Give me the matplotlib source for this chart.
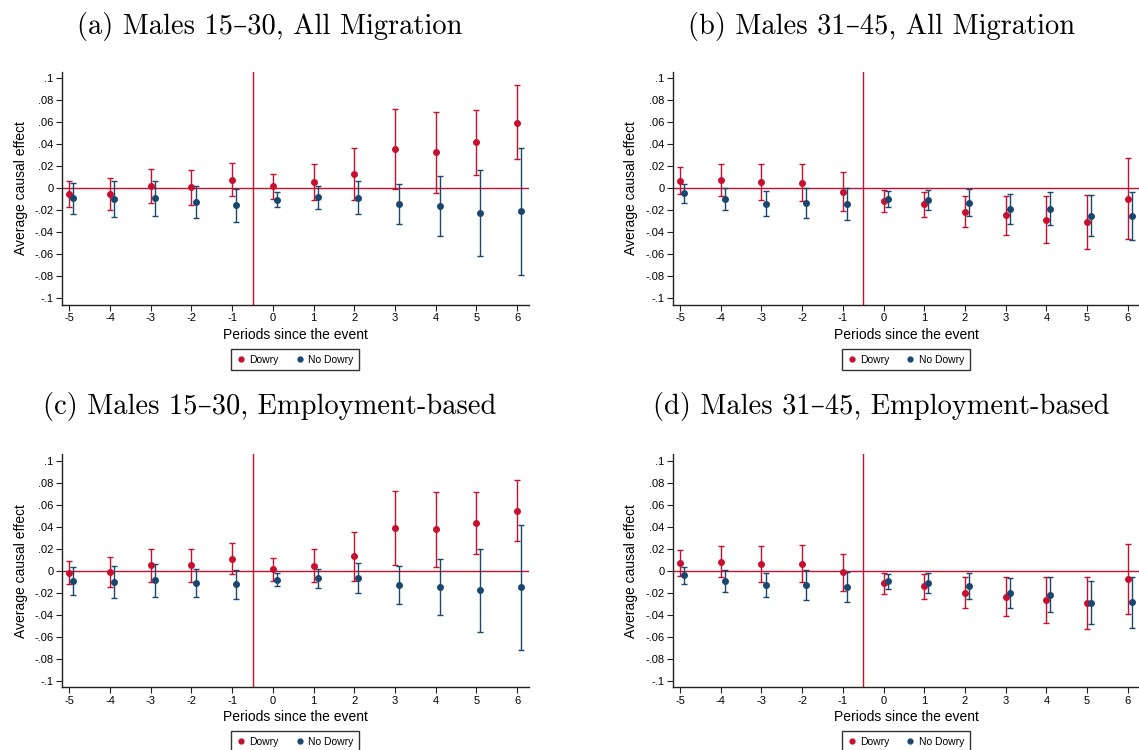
import numpy as np
import matplotlib
matplotlib.use("Agg")
import matplotlib.pyplot as plt
from matplotlib.lines import Line2D

plt.rcParams['font.family'] = ['Liberation Sans', 'DejaVu Sans']

periods = [-5, -4, -3, -2, -1, 0, 1, 2, 3, 4, 5, 6]
y_ticks = [-0.1, -0.08, -0.06, -0.04, -0.02, 0, 0.02, 0.04, 0.06, 0.08, 0.1]

titles = ["(a) Males 15\u201330, All Migration",
          "(b) Males 31\u201345, All Migration",
          "(c) Males 15\u201330, Employment-based",
          "(d) Males 31\u201345, Employment-based"]

# (a) males 15-30, all migration
a_dowry = [-0.0048, -0.005, 0.002, 0.001, 0.008, 0.002, 0.0055, 0.0133, 0.0355, 0.0327, 0.0418, 0.0597]
a_dowry_lo = [-0.0167, -0.020, -0.0133, -0.015, -0.0073, -0.0094, -0.011, -0.0106, -0.001, -0.004, 0.0118, 0.0264]
a_dowry_hi = [0.007, 0.0097, 0.0176, 0.0167, 0.0227, 0.0127, 0.022, 0.037, 0.0718, 0.069, 0.071, 0.0936]
a_nod = [-0.0088, -0.0094, -0.0091, -0.0121, -0.0152, -0.0106, -0.0079, -0.0085, -0.0139, -0.0158, -0.0221, -0.0209]
a_nod_lo = [-0.023, -0.0258, -0.0255, -0.027, -0.0303, -0.0173, -0.0185, -0.0236, -0.0321, -0.043, -0.0612, -0.079]
a_nod_hi = [0.0048, 0.0067, 0.007, 0.0024, -0.0003, -0.0036, 0.0024, 0.007, 0.0042, 0.011, 0.017, 0.037]

# (b) males 31-45, all migration
b_dowry = [0.007, 0.0076, 0.0058, 0.0048, -0.003, -0.0115, -0.0145, -0.0215, -0.0245, -0.0285, -0.0306, -0.0094]
b_dowry_lo = [-0.005, -0.007, -0.011, -0.0118, -0.0206, -0.0218, -0.0264, -0.0355, -0.042, -0.050, -0.0555, -0.0464]
b_dowry_hi = [0.019, 0.022, 0.0224, 0.0218, 0.0145, -0.0018, -0.003, -0.0073, -0.0073, -0.0073, -0.0058, 0.0273]
b_nod = [-0.0045, -0.0097, -0.0139, -0.0133, -0.0145, -0.010, -0.0106, -0.013, -0.0185, -0.0185, -0.0248, -0.0248]
b_nod_lo = [-0.013, -0.020, -0.0255, -0.0273, -0.029, -0.0173, -0.020, -0.025, -0.032, -0.0336, -0.0436, -0.047]
b_nod_hi = [0.0036, 0.0006, -0.0024, 0.0006, 0.0, -0.0027, -0.0012, -0.0009, -0.0048, -0.003, -0.0064, -0.003]

# (c) males 15-30, employment-based
c_dowry = [-0.0018, -0.0015, 0.0048, 0.0048, 0.011, 0.0012, 0.0045, 0.013, 0.0388, 0.0376, 0.043, 0.0545]
c_dowry_lo = [-0.0124, -0.015, -0.010, -0.0103, -0.0033, -0.009, -0.0106, -0.009, 0.0055, 0.0033, 0.0148, 0.0267]
c_dowry_hi = [0.0088, 0.012, 0.0197, 0.020, 0.025, 0.0118, 0.020, 0.035, 0.0727, 0.0718, 0.0715, 0.0827]
c_nod = [-0.0097, -0.0103, -0.0085, -0.0109, -0.0124, -0.0082, -0.0067, -0.0064, -0.013, -0.0145, -0.0179, -0.0148]
c_nod_lo = [-0.0224, -0.0248, -0.0236, -0.0236, -0.0258, -0.0142, -0.0158, -0.020, -0.030, -0.040, -0.0555, -0.0718]
c_nod_hi = [0.0033, 0.0045, 0.0064, 0.0018, 0.0006, -0.002, 0.0018, 0.0073, 0.0039, 0.011, 0.020, 0.0418]

# (d) males 31-45, employment-based
d_dowry = [0.007, 0.0082, 0.0064, 0.0064, -0.0015, -0.0112, -0.0139, -0.020, -0.0236, -0.027, -0.0294, -0.0076]
d_dowry_lo = [-0.0048, -0.006, -0.010, -0.0106, -0.0188, -0.021, -0.0255, -0.034, -0.041, -0.048, -0.053, -0.0397]
d_dowry_hi = [0.0188, 0.0221, 0.0227, 0.023, 0.0152, -0.0018, -0.0027, -0.006, -0.006, -0.006, -0.006, 0.0245]
d_nod = [-0.0042, -0.0094, -0.013, -0.013, -0.0145, -0.0097, -0.0109, -0.0136, -0.020, -0.0218, -0.029, -0.0285]
d_nod_lo = [-0.012, -0.019, -0.0242, -0.0264, -0.0288, -0.0167, -0.020, -0.0258, -0.034, -0.0376, -0.0485, -0.052]
d_nod_hi = [0.0036, 0.0003, -0.0024, 0.0003, -0.0009, -0.003, -0.0018, -0.0018, -0.0067, -0.006, -0.0097, -0.0055]

panels = [
    (a_dowry, a_dowry_lo, a_dowry_hi, a_nod, a_nod_lo, a_nod_hi),
    (b_dowry, b_dowry_lo, b_dowry_hi, b_nod, b_nod_lo, b_nod_hi),
    (c_dowry, c_dowry_lo, c_dowry_hi, c_nod, c_nod_lo, c_nod_hi),
    (d_dowry, d_dowry_lo, d_dowry_hi, d_nod, d_nod_lo, d_nod_hi),
]

RED = '#c8102e'
BLUE = '#1a476f'
W, H = 1139, 750


def stata_label(v):
    # Stata style: ".02", "-.04", "0"
    if abs(v) < 1e-9:
        return "0"
    return f"{v:g}".replace("0.", ".")


fig = plt.figure(figsize=(W / 100, H / 100), dpi=100)

# axes boxes in pixels: left, top
boxes = [(62, 71.7), (672.7, 71.7), (62, 454), (672.7, 454)]
ax_w, ax_h = 466.5, 233.3
title_x = [270, 881, 270, 881]
title_y = [34, 34, 414, 414]

x = np.array(periods, dtype=float)

for i, (left, top) in enumerate(boxes):
    ax = fig.add_axes([left / W, (H - top - ax_h) / H, ax_w / W, ax_h / H])
    dw, dlo, dhi, nd, nlo, nhi = [np.array(v) for v in panels[i]]

    ax.axhline(0, color=RED, lw=1.0, zorder=1)
    ax.axvline(-0.5, color=RED, lw=1.0, zorder=1)

    ax.errorbar(x, dw, yerr=[dw - dlo, dhi - dw], fmt='o', color=RED,
                ms=4, capsize=2, elinewidth=1.0, capthick=1.0, zorder=3)
    ax.errorbar(x + 0.1, nd, yerr=[nd - nlo, nhi - nd], fmt='o', color=BLUE,
                ms=4, capsize=2, elinewidth=1.0, capthick=1.0, zorder=3)

    ax.set_xlim(-5.18, 6.28)
    ax.set_ylim(-0.106, 0.106)
    ax.set_xticks(periods)
    ax.set_xticklabels([str(p) for p in periods])
    ax.set_yticks(y_ticks)
    ax.set_yticklabels([stata_label(v) for v in y_ticks])
    ax.tick_params(axis='both', direction='out', length=4, width=0.8,
                   labelsize=8, color='#222222', pad=2)
    for side in ['top', 'right']:
        ax.spines[side].set_visible(False)
    for side in ['left', 'bottom']:
        ax.spines[side].set_linewidth(1.0)
        ax.spines[side].set_color('#222222')

    ax.set_xlabel("Periods since the event", fontsize=10, labelpad=3)
    ax.set_ylabel("Average causal effect", fontsize=10, labelpad=5)

    handles = [Line2D([], [], marker='o', color=RED, ls='none', ms=3.5),
               Line2D([], [], marker='o', color=BLUE, ls='none', ms=3.5)]
    leg = ax.legend(handles, ["Dowry", "No Dowry"], loc='upper center',
                    bbox_to_anchor=(0.5, -44 / ax_h), ncol=2, fontsize=7.5,
                    frameon=True, fancybox=False, edgecolor='black',
                    handlelength=0.8, handletextpad=0.4, columnspacing=1.6,
                    borderpad=0.55, borderaxespad=0)
    leg.get_frame().set_linewidth(1.0)

    fig.text(title_x[i] / W, 1 - title_y[i] / H, titles[i], ha='center',
             va='baseline', fontsize=20.5, family=['cmr10', 'DejaVu Serif'])

fig.savefig("out.png", dpi=100)
